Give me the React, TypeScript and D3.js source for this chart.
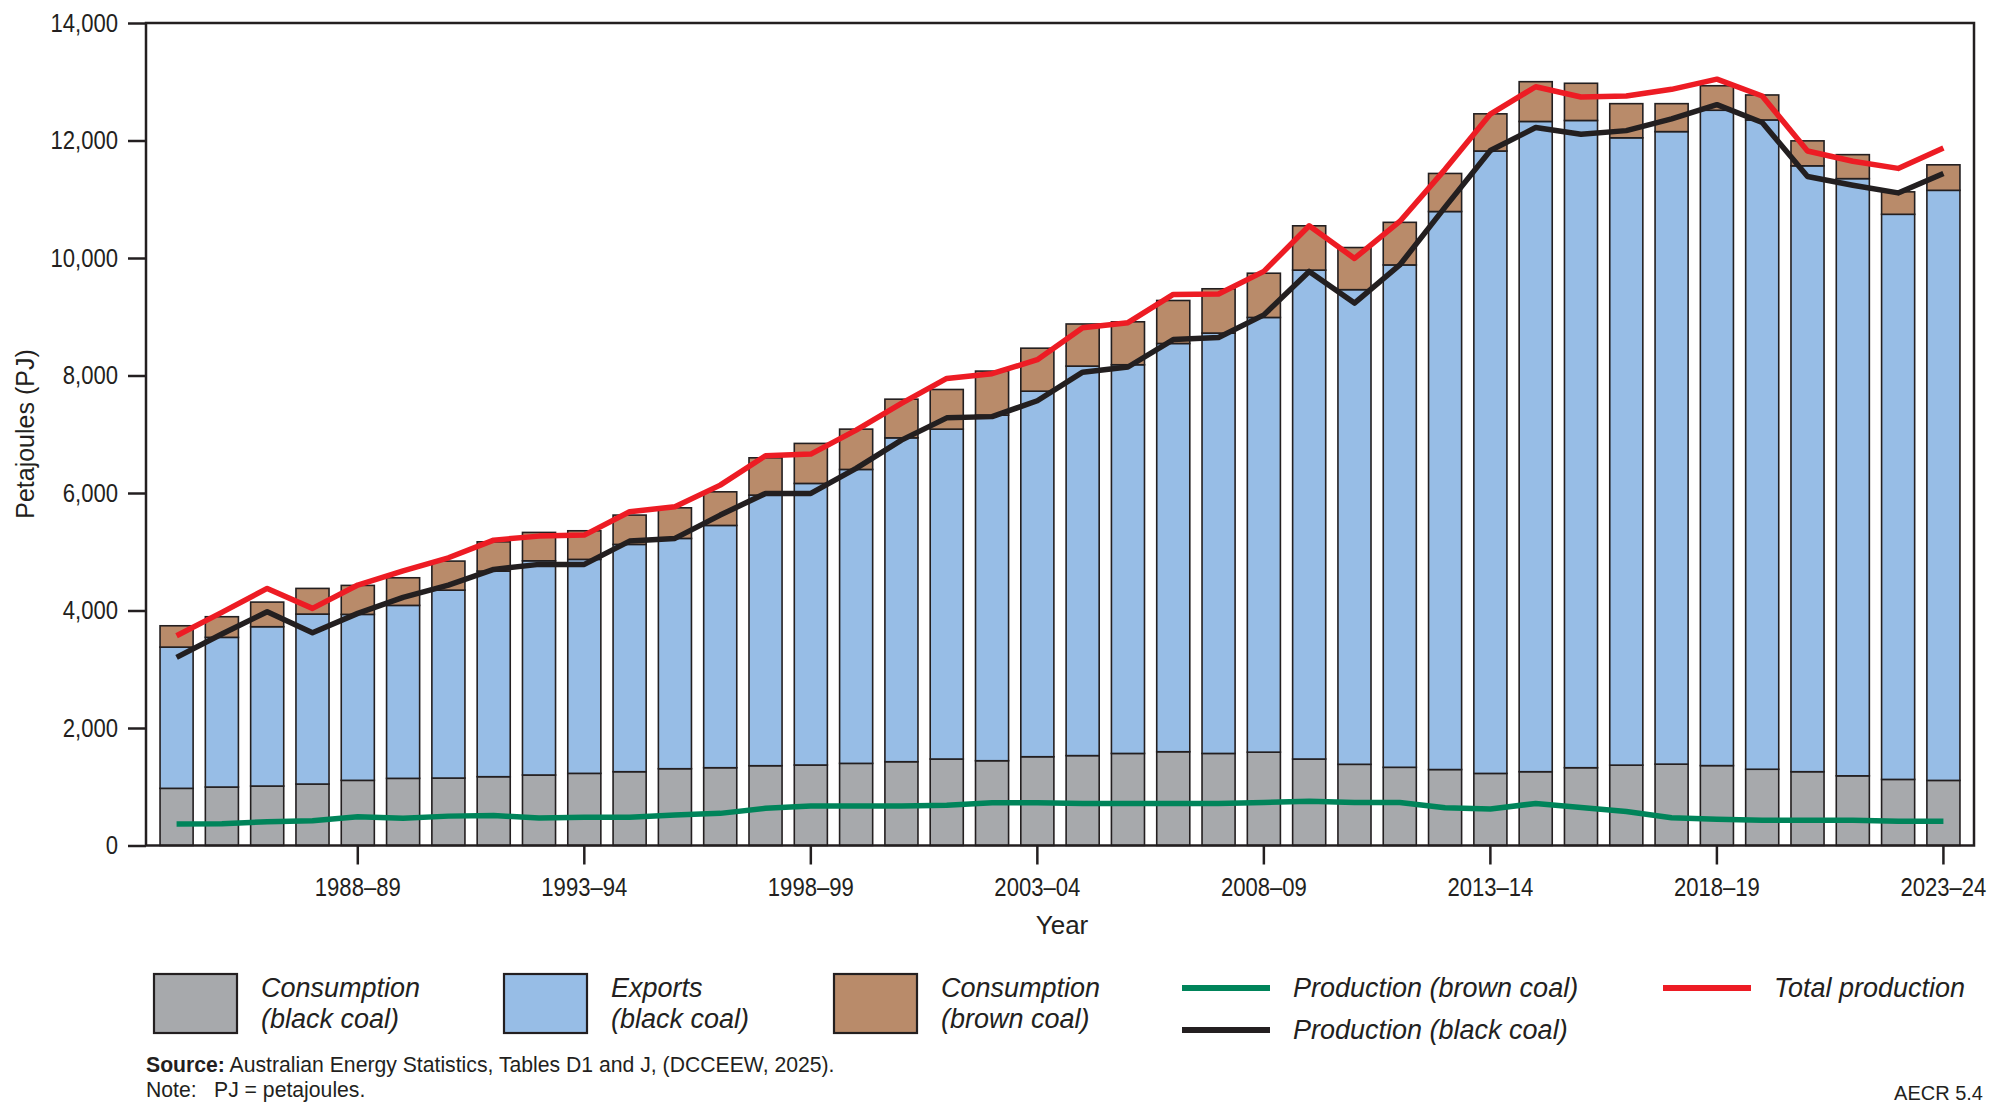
import React, { useRef, useEffect } from 'react';
import * as d3 from 'd3';

// Financial years shown as bars
const years = [
  '1984–85', '1985–86', '1986–87', '1987–88', '1988–89', '1989–90', '1990–91', '1991–92',
  '1992–93', '1993–94', '1994–95', '1995–96', '1996–97', '1997–98', '1998–99', '1999–00',
  '2000–01', '2001–02', '2002–03', '2003–04', '2004–05', '2005–06', '2006–07', '2007–08',
  '2008–09', '2009–10', '2010–11', '2011–12', '2012–13', '2013–14', '2014–15', '2015–16',
  '2016–17', '2017–18', '2018–19', '2019–20', '2020–21', '2021–22', '2022–23', '2023–24',
];

const tickYears = ['1988–89', '1993–94', '1998–99', '2003–04', '2008–09', '2013–14', '2018–19', '2023–24'];
const yTicks = [0, 2000, 4000, 6000, 8000, 10000, 12000, 14000];

// PJ values
const consumptionBlack = [
  973, 995, 1012, 1046, 1109, 1143, 1148, 1171, 1200, 1228,
  1256, 1307, 1324, 1358, 1370, 1398, 1426, 1472, 1443, 1511,
  1530, 1567, 1596, 1567, 1589, 1472, 1382, 1331, 1293, 1227,
  1256, 1324, 1368, 1385, 1360, 1298, 1256, 1186, 1125, 1108,
];
const exportsBlack = [
  2404, 2548, 2712, 2893, 2825, 2944, 3199, 3500, 3646, 3642,
  3869, 3920, 4124, 4606, 4793, 5003, 5513, 5615, 5882, 6222,
  6630, 6616, 6949, 7155, 7399, 8322, 8079, 8551, 9498, 10594,
  11068, 11017, 10678, 10766, 11155, 11052, 10313, 10165, 9619, 10044,
];
const consumptionBrown = [
  363, 351, 419, 437, 493, 470, 494, 498, 483, 487,
  499, 521, 572, 635, 681, 686, 658, 675, 750, 732,
  717, 731, 732, 754, 753, 754, 717, 725, 648, 633,
  677, 633, 581, 476, 417, 425, 425, 408, 382, 434,
];
const productionBrown = [
  366, 370, 405, 422, 490, 462, 500, 510, 470, 479,
  479, 519, 547, 633, 672, 672, 672, 684, 728, 728,
  716, 716, 716, 716, 732, 754, 732, 732, 643, 621,
  716, 648, 579, 473, 448, 430, 430, 430, 413, 413,
];
const productionBlack = [
  3202, 3599, 3979, 3621, 3951, 4223, 4433, 4699, 4785, 4785,
  5181, 5227, 5624, 5993, 5993, 6418, 6900, 7279, 7300, 7570,
  8057, 8145, 8611, 8648, 9032, 9772, 9232, 9882, 10866, 11830,
  12220, 12107, 12168, 12367, 12610, 12307, 11387, 11239, 11108, 11438,
];
const totalProduction = [
  3570, 3968, 4376, 4036, 4433, 4676, 4897, 5198, 5266, 5283,
  5680, 5765, 6134, 6633, 6662, 7070, 7524, 7950, 8030, 8270,
  8811, 8899, 9380, 9387, 9772, 10548, 9993, 10622, 11509, 12450,
  12915, 12741, 12758, 12871, 13044, 12758, 11821, 11647, 11525, 11872,
];

const barKeys = ['consBlack', 'exports', 'consBrown'];
const barColors: Record<string, string> = {
  consBlack: '#a7a9ac',
  exports: '#97bde6',
  consBrown: '#b98b6a',
};

const W = 2000;
const H = 1112;
const INK = '#231f20';
const SANS = '"Liberation Sans", Arial, sans-serif';
// tick labels use a condensed face; squeeze Liberation Sans horizontally
const SQUEEZE = 0.85;

const App: React.FC = () => {
  const svgRef = useRef<SVGSVGElement | null>(null);

  useEffect(() => {
    const svg = d3.select(svgRef.current);
    svg.selectAll('*').remove();

    const plot = { left: 146, right: 1974, top: 23, bottom: 845.5 };

    const x = d3.scaleBand<string>()
      .domain(years)
      .range([plot.left, plot.right])
      .paddingInner(0.27)
      .paddingOuter(0.31);
    const y = d3.scaleLinear().domain([0, 14000]).range([plot.bottom, plot.top]);

    const rows = years.map((yr, i) => ({
      year: yr,
      consBlack: consumptionBlack[i],
      exports: exportsBlack[i],
      consBrown: consumptionBrown[i],
    }));
    const stacked = d3.stack<any>().keys(barKeys)(rows);

    // Bars
    const layers = svg.append('g')
      .selectAll('g')
      .data(stacked)
      .enter()
      .append('g')
      .attr('fill', d => barColors[d.key]);

    layers.selectAll('rect')
      .data(d => d)
      .enter()
      .append('rect')
      .attr('x', d => x(d.data.year) as number)
      .attr('width', x.bandwidth())
      .attr('y', d => y(d[1]))
      .attr('height', d => y(d[0]) - y(d[1]))
      .attr('stroke', INK)
      .attr('stroke-width', 1.6);

    // Lines
    const cx = (i: number) => (x(years[i]) as number) + x.bandwidth() / 2;
    const lineGen = d3.line<number>().x((_, i) => cx(i)).y(d => y(d));
    const series: [number[], string][] = [
      [productionBrown, '#00845a'],
      [productionBlack, INK],
      [totalProduction, '#ed1c24'],
    ];
    series.forEach(([vals, col]) => {
      svg.append('path')
        .attr('d', lineGen(vals) as string)
        .attr('fill', 'none')
        .attr('stroke', col)
        .attr('stroke-width', 5.5)
        .attr('stroke-linejoin', 'round');
    });

    // Frame
    svg.append('rect')
      .attr('x', plot.left)
      .attr('y', plot.top)
      .attr('width', plot.right - plot.left)
      .attr('height', plot.bottom - plot.top)
      .attr('fill', 'none')
      .attr('stroke', INK)
      .attr('stroke-width', 2.5);

    // Y axis
    const yAxis = svg.append('g')
      .attr('transform', `translate(${plot.left},0)`)
      .call(d3.axisLeft(y).tickValues(yTicks).tickSize(18).tickPadding(9).tickFormat(d3.format(',')));
    yAxis.select('.domain').remove();
    yAxis.selectAll('line').attr('stroke', INK).attr('stroke-width', 2.5);
    yAxis.selectAll('text')
      .attr('fill', INK)
      .attr('font-family', SANS)
      .attr('font-size', 26)
      .attr('x', -28 / SQUEEZE)
      .attr('transform', `scale(${SQUEEZE},1)`);

    // X axis
    const xAxis = svg.append('g')
      .attr('transform', `translate(0,${plot.bottom})`)
      .call(d3.axisBottom(x).tickValues(tickYears).tickSize(19).tickPadding(13));
    xAxis.select('.domain').remove();
    xAxis.selectAll('line').attr('stroke', INK).attr('stroke-width', 2.5);
    xAxis.selectAll('text')
      .attr('fill', INK)
      .attr('font-family', SANS)
      .attr('font-size', 26)
      .attr('transform', `scale(${SQUEEZE},1)`);

    // Axis titles
    svg.append('text')
      .attr('x', 1062)
      .attr('y', 934)
      .attr('text-anchor', 'middle')
      .attr('font-family', SANS)
      .attr('font-size', 26)
      .attr('fill', INK)
      .text('Year');
    svg.append('text')
      .attr('transform', `translate(34,434) rotate(-90)`)
      .attr('text-anchor', 'middle')
      .attr('font-family', SANS)
      .attr('font-size', 25)
      .attr('fill', INK)
      .text('Petajoules (PJ)');

    // Legend: swatches
    const swatches: [string, number, string, string][] = [
      ['consBlack', 154, 'Consumption', '(black coal)'],
      ['exports', 504, 'Exports', '(black coal)'],
      ['consBrown', 834, 'Consumption', '(brown coal)'],
    ];
    swatches.forEach(([key, sx, l1, l2]) => {
      svg.append('rect')
        .attr('x', sx)
        .attr('y', 974)
        .attr('width', 83)
        .attr('height', 59)
        .attr('fill', barColors[key])
        .attr('stroke', INK)
        .attr('stroke-width', 2.2);
      const t = svg.append('text')
        .attr('font-family', SANS)
        .attr('font-style', 'italic')
        .attr('font-size', 27)
        .attr('fill', INK);
      t.append('tspan').attr('x', sx + 107).attr('y', 997).text(l1);
      t.append('tspan').attr('x', sx + 107).attr('y', 1028).text(l2);
    });

    // Legend: lines
    const lineItems: [string, number, number, string][] = [
      ['#00845a', 1182, 988, 'Production (brown coal)'],
      [INK, 1182, 1030, 'Production (black coal)'],
      ['#ed1c24', 1663, 988, 'Total production'],
    ];
    lineItems.forEach(([col, lx, ly, label]) => {
      svg.append('line')
        .attr('x1', lx)
        .attr('x2', lx + 88)
        .attr('y1', ly)
        .attr('y2', ly)
        .attr('stroke', col)
        .attr('stroke-width', 6);
      svg.append('text')
        .attr('x', lx + 111)
        .attr('y', ly + 9)
        .attr('font-family', SANS)
        .attr('font-style', 'italic')
        .attr('font-size', 27)
        .attr('fill', INK)
        .text(label);
    });

    // Source and notes
    const src = svg.append('text')
      .attr('x', 146)
      .attr('y', 1072)
      .attr('font-family', SANS)
      .attr('font-size', 21.2)
      .attr('fill', INK);
    src.append('tspan').attr('font-weight', 'bold').text('Source:');
    src.append('tspan').text(' Australian Energy Statistics, Tables D1 and J, (DCCEEW, 2025).');

    const note = svg.append('text')
      .attr('y', 1097)
      .attr('font-family', SANS)
      .attr('font-size', 21.2)
      .attr('fill', INK);
    note.append('tspan').attr('x', 146).text('Note:');
    note.append('tspan').attr('x', 214).text('PJ = petajoules.');

    svg.append('text')
      .attr('x', 1983)
      .attr('y', 1100)
      .attr('text-anchor', 'end')
      .attr('font-family', SANS)
      .attr('font-size', 20)
      .attr('fill', INK)
      .text('AECR 5.4');
  }, []);

  return (
    <svg
      ref={svgRef}
      width={W}
      height={H}
      style={{ position: 'absolute', left: 0, top: 0, background: '#fff' }}
    />
  );
};

export default App;
